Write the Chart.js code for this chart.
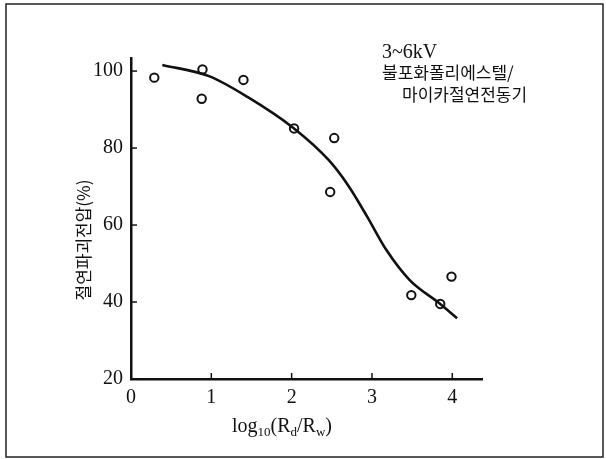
<!DOCTYPE html>
<html>
<head>
<meta charset="utf-8">
<script src="https://cdn.jsdelivr.net/npm/chart.js@4"></script>
<style>
  html, body { margin: 0; padding: 0; background: #fff; }
  #wrap { width: 606px; height: 459px; }
</style>
</head>
<body>
<div id="wrap"><canvas id="breakdownChart" width="606" height="459"></canvas></div>
<script>
// measured points (log10(Rd/Rw), breakdown voltage %)
const pointX = [0.29, 0.88, 0.89, 1.40, 2.03, 2.53, 2.48, 3.49, 3.85, 3.99];
const pointY = [98.3, 92.8, 100.4, 97.7, 85.1, 82.6, 68.6, 41.8, 39.5, 46.6];

// fitted curve
const curveX = [0.39, 0.97, 1.45, 2.03, 2.46, 2.70, 2.94, 3.18, 3.47, 3.85, 4.06];
const curveY = [101.6, 98.7, 93.3, 85.1, 76.9, 70.4, 62.2, 53.5, 45.7, 39.5, 35.8];

const xTicks = [0, 1, 2, 3, 4];
const yTicks = [20, 40, 60, 80, 100];

const yLabel = '절연파괴전압(%)';
const noteLines = ['3~6kV', '불포화폴리에스텔/', '마이카절연전동기'];

const serif = '"Liberation Serif", "DejaVu Serif", serif';
const kr = '"Noto Sans CJK KR", sans-serif';

// inward tick marks, frame and free text
const decorPlugin = {
    id: 'decor',
    afterDraw(chart) {
        const ctx = chart.ctx;
        const xs = chart.scales.x, ys = chart.scales.y;
        ctx.save();
        ctx.strokeStyle = '#111';
        ctx.lineWidth = 1.5;
        xTicks.forEach(v => {
            const px = xs.getPixelForValue(v);
            ctx.beginPath();
            ctx.moveTo(px, ys.bottom);
            ctx.lineTo(px, ys.bottom - 6);
            ctx.stroke();
        });
        yTicks.forEach(v => {
            const py = ys.getPixelForValue(v);
            ctx.beginPath();
            ctx.moveTo(xs.left, py);
            ctx.lineTo(xs.left + 6, py);
            ctx.stroke();
        });

        // outer frame
        ctx.lineWidth = 1.5;
        ctx.strokeStyle = '#222';
        ctx.strokeRect(6, 4, 597, 453);

        ctx.fillStyle = '#111';
        ctx.textAlign = 'left';
        ctx.textBaseline = 'alphabetic';

        // note in upper right
        ctx.font = '20px ' + serif;
        ctx.fillText(noteLines[0], 382, 58);
        ctx.font = '17px ' + kr;
        ctx.fillText(noteLines[1], 382, 79);
        ctx.fillText(noteLines[2], 402, 101);

        // y axis title
        ctx.save();
        ctx.translate(84, 240);
        ctx.rotate(-Math.PI / 2);
        ctx.textAlign = 'center';
        ctx.textBaseline = 'middle';
        ctx.font = '17px ' + kr;
        ctx.fillText(yLabel, 0, 0);
        ctx.restore();

        // x axis title with subscripts
        const parts = [['log', 0], ['10', 1], ['(R', 0], ['d', 1], ['/R', 0], ['w', 1], [')', 0]];
        let x = 232;
        parts.forEach(([t, sub]) => {
            ctx.font = (sub ? '13px ' : '20px ') + serif;
            ctx.fillText(t, x, sub ? 436 : 432);
            x += ctx.measureText(t).width;
        });
        ctx.restore();
    }
};

new Chart(document.getElementById('breakdownChart'), {
    type: 'scatter',
    data: {
        datasets: [
            {
                label: 'curve',
                type: 'line',
                data: curveX.map((v, i) => ({ x: v, y: curveY[i] })),
                borderColor: '#111',
                borderWidth: 2.6,
                pointRadius: 0,
                fill: false,
                cubicInterpolationMode: 'monotone'
            },
            {
                label: 'measured',
                data: pointX.map((v, i) => ({ x: v, y: pointY[i] })),
                borderColor: '#111',
                backgroundColor: '#fff',
                borderWidth: 2,
                pointRadius: 4.2
            }
        ]
    },
    options: {
        responsive: false,
        animation: false,
        devicePixelRatio: 1,
        layout: { padding: { left: 0, top: 58, right: 124, bottom: 50 } },
        plugins: {
            legend: { display: false },
            tooltip: { enabled: false }
        },
        scales: {
            x: {
                type: 'linear',
                min: 0,
                max: 4.37,
                afterBuildTicks: s => { s.ticks = xTicks.map(v => ({ value: v })); },
                afterFit: s => { s.height = 30; },
                grid: { display: false, drawTicks: false },
                border: { display: true, color: '#111', width: 2.5 },
                ticks: { color: '#111', padding: 7, autoSkip: false, font: { family: serif, size: 20 }, maxRotation: 0 }
            },
            y: {
                type: 'linear',
                min: 20,
                max: 103.4,
                afterBuildTicks: s => { s.ticks = yTicks.map(v => ({ value: v })); },
                afterFit: s => { s.width = 131; },
                grid: { display: false, drawTicks: false },
                border: { display: true, color: '#111', width: 2.5 },
                ticks: { color: '#111', padding: 8, font: { family: serif, size: 20 } }
            }
        }
    },
    plugins: [decorPlugin]
});
</script>
</body>
</html>
